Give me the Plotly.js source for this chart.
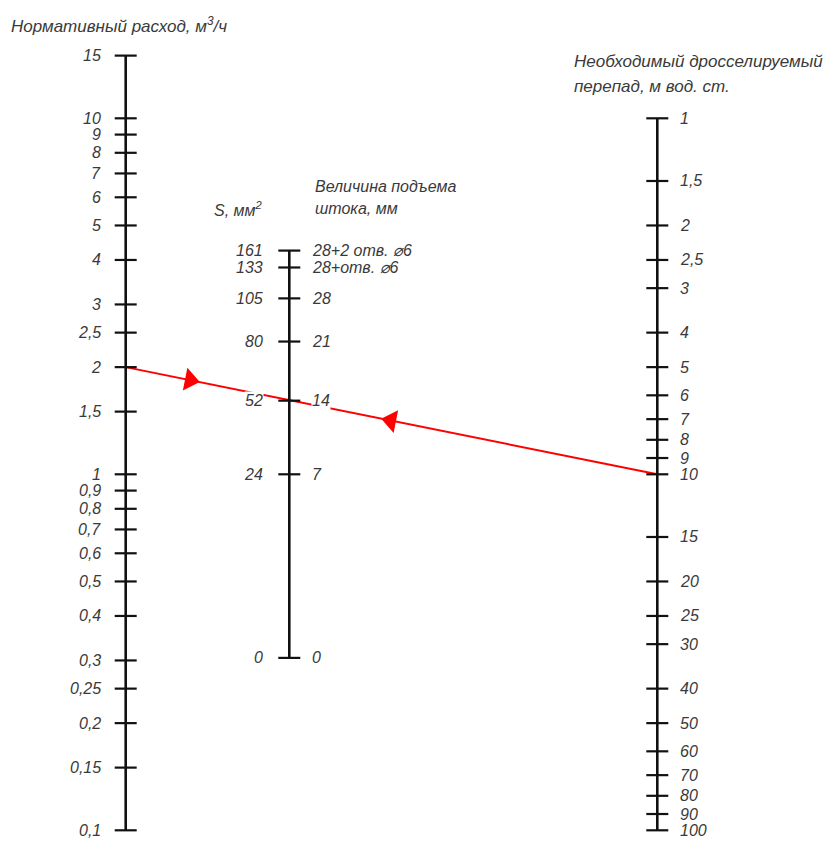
<!DOCTYPE html>
<html><head><meta charset="utf-8">
<script src="https://cdn.plot.ly/plotly-3.0.1.min.js"></script>
<style>html,body{margin:0;padding:0;background:#fff;}#chart{width:829px;height:845px;}</style>
</head><body><div id="chart"></div>
<script>
// ---- data ----
// Left scale: normative flow, m3/h
const flowValues = [0.1, 0.15, 0.2, 0.25, 0.3, 0.4, 0.5, 0.6, 0.7, 0.8, 0.9, 1, 1.5, 2, 2.5, 3, 4, 5, 6, 7, 8, 9, 10, 15];
const flowLabels = ["0,1","0,15","0,2","0,25","0,3","0,4","0,5","0,6","0,7","0,8","0,9","1","1,5","2","2,5","3","4","5","6","7","8","9","10","15"];
// Right scale: required throttled pressure drop, m w.c.
const dropValues = [1, 1.5, 2, 2.5, 3, 4, 5, 6, 7, 8, 9, 10, 15, 20, 25, 30, 40, 50, 60, 70, 80, 90, 100];
const dropLabels = ["1","1,5","2","2,5","3","4","5","6","7","8","9","10","15","20","25","30","40","50","60","70","80","90","100"];
// Middle scale: area S, mm2 and stem lift, mm
const areaValues = [0, 24, 52, 80, 105, 133, 161];
const liftLabels = ["0", "7", "14", "21", "28", "28+отв. ⌀6", "28+2 отв. ⌀6"];
// calibration of the middle scale, expressed as equivalent flow on the left scale
const areaScaleFlow = [0.305, 1.0, 1.61, 2.36, 3.12, 3.81, 4.25];
// example key line
const exampleFlow = 2;    // m3/h
const exampleDrop = 10;   // m w.c.
const arrowFractions = [0.121, 0.499];

// ---- layout constants ----
const W = 829, H = 845;
const xL = 125.7, xM = 289.3, xR = 657.3;
const tickHalf = 11;
const dropToY = p => 10 / p;   // right scale shares the log axis (reversed)
const textColor = '#3a3a3a';
const fam = "'Liberation Sans', Arial, sans-serif";
const font = (s) => ({family: fam, size: s, color: textColor, style: 'italic'});

function ticks(xc, ys) {
  const x = [], y = [];
  ys.forEach(v => { x.push(xc - tickHalf, xc + tickHalf, null); y.push(v, v, null); });
  return {x, y};
}
const lt = ticks(xL, flowValues);
const rt = ticks(xR, dropValues.map(dropToY));
const mt = ticks(xM, areaScaleFlow);

const axisLine = {color: '#111', width: 2.6};
const tickLine = {color: '#111', width: 2.2};

// red example line
const yA = exampleFlow, yB = dropToY(exampleDrop);
const arrowX = arrowFractions.map(f => xL + f * (xR - xL));
const arrowY = arrowFractions.map(f => Math.pow(10, Math.log10(yA) + f * (Math.log10(yB) - Math.log10(yA))));

const traces = [
  {x: [xL, xR], y: [yA, yB], mode: 'lines', line: {color: '#ff0000', width: 2}, hoverinfo: 'skip'},
  {x: arrowX, y: arrowY, mode: 'markers', hoverinfo: 'skip',
   marker: {symbol: ['triangle-right', 'triangle-left'], size: 20, color: '#ff0000', angle: 11.3, line: {width: 0}}},
  {x: [xL, xL], y: [flowValues[0], flowValues[flowValues.length-1]], mode: 'lines', line: axisLine, hoverinfo: 'skip'},
  {x: lt.x, y: lt.y, mode: 'lines', line: tickLine, hoverinfo: 'skip'},
  {x: [xR, xR], y: [dropToY(dropValues[0]), dropToY(dropValues[dropValues.length-1])], mode: 'lines', line: axisLine, hoverinfo: 'skip'},
  {x: rt.x, y: rt.y, mode: 'lines', line: tickLine, hoverinfo: 'skip'},
  {x: [xM, xM], y: [areaScaleFlow[0], areaScaleFlow[areaScaleFlow.length-1]], mode: 'lines', line: axisLine, hoverinfo: 'skip'},
  {x: mt.x, y: mt.y, mode: 'lines', line: tickLine, hoverinfo: 'skip'}
];

const ann = [];
const lg = Math.log10;
flowValues.forEach((v, i) => ann.push({x: xL - 23, y: lg(v), xref: 'x', yref: 'y', text: flowLabels[i], showarrow: false, xanchor: 'right', yanchor: 'middle', font: font(16)}));
dropValues.forEach((v, i) => ann.push({x: xR + 21, y: lg(dropToY(v)), xref: 'x', yref: 'y', text: dropLabels[i], showarrow: false, xanchor: 'left', yanchor: 'middle', font: font(16)}));
areaValues.forEach((v, i) => {
  ann.push({x: xM - 25, y: lg(areaScaleFlow[i]), xref: 'x', yref: 'y', text: String(v), showarrow: false, xanchor: 'right', yanchor: 'middle', font: font(16), bgcolor: '#ffffff', borderpad: 0});
  ann.push({x: xM + 22, y: lg(areaScaleFlow[i]), xref: 'x', yref: 'y', text: liftLabels[i], showarrow: false, xanchor: 'left', yanchor: 'middle', font: font(16), bgcolor: '#ffffff', borderpad: 0});
});
const py = p => 1 - p / H;
const titles = [
  {x: 9, y: 25, t: 'Нормативный расход, м<sup>3</sup>/ч', s: 17},
  {x: 572, y: 62, t: 'Необходимый дросселируемый', s: 17},
  {x: 572, y: 86, t: 'перепад, м вод. ст.', s: 17},
  {x: 313, y: 187, t: 'Величина подъема', s: 16},
  {x: 313, y: 209, t: 'штока, мм', s: 16},
  {x: 212, y: 209, t: 'S, мм<sup>2</sup>', s: 16}
];
titles.forEach(o => ann.push({x: o.x, y: py(o.y), xref: 'x', yref: 'paper', text: o.t, showarrow: false, xanchor: 'left', yanchor: 'middle', font: font(o.s)}));

const layout = {
  width: W, height: H, margin: {l: 0, r: 0, t: 0, b: 0},
  paper_bgcolor: '#fff', plot_bgcolor: '#fff', showlegend: false,
  xaxis: {range: [0, W], visible: false, fixedrange: true},
  yaxis: {type: 'log', range: [-1.0413, 1.3323], visible: false, fixedrange: true},
  annotations: ann
};
Plotly.newPlot('chart', traces, layout, {displayModeBar: false, staticPlot: true});
</script></body></html>
